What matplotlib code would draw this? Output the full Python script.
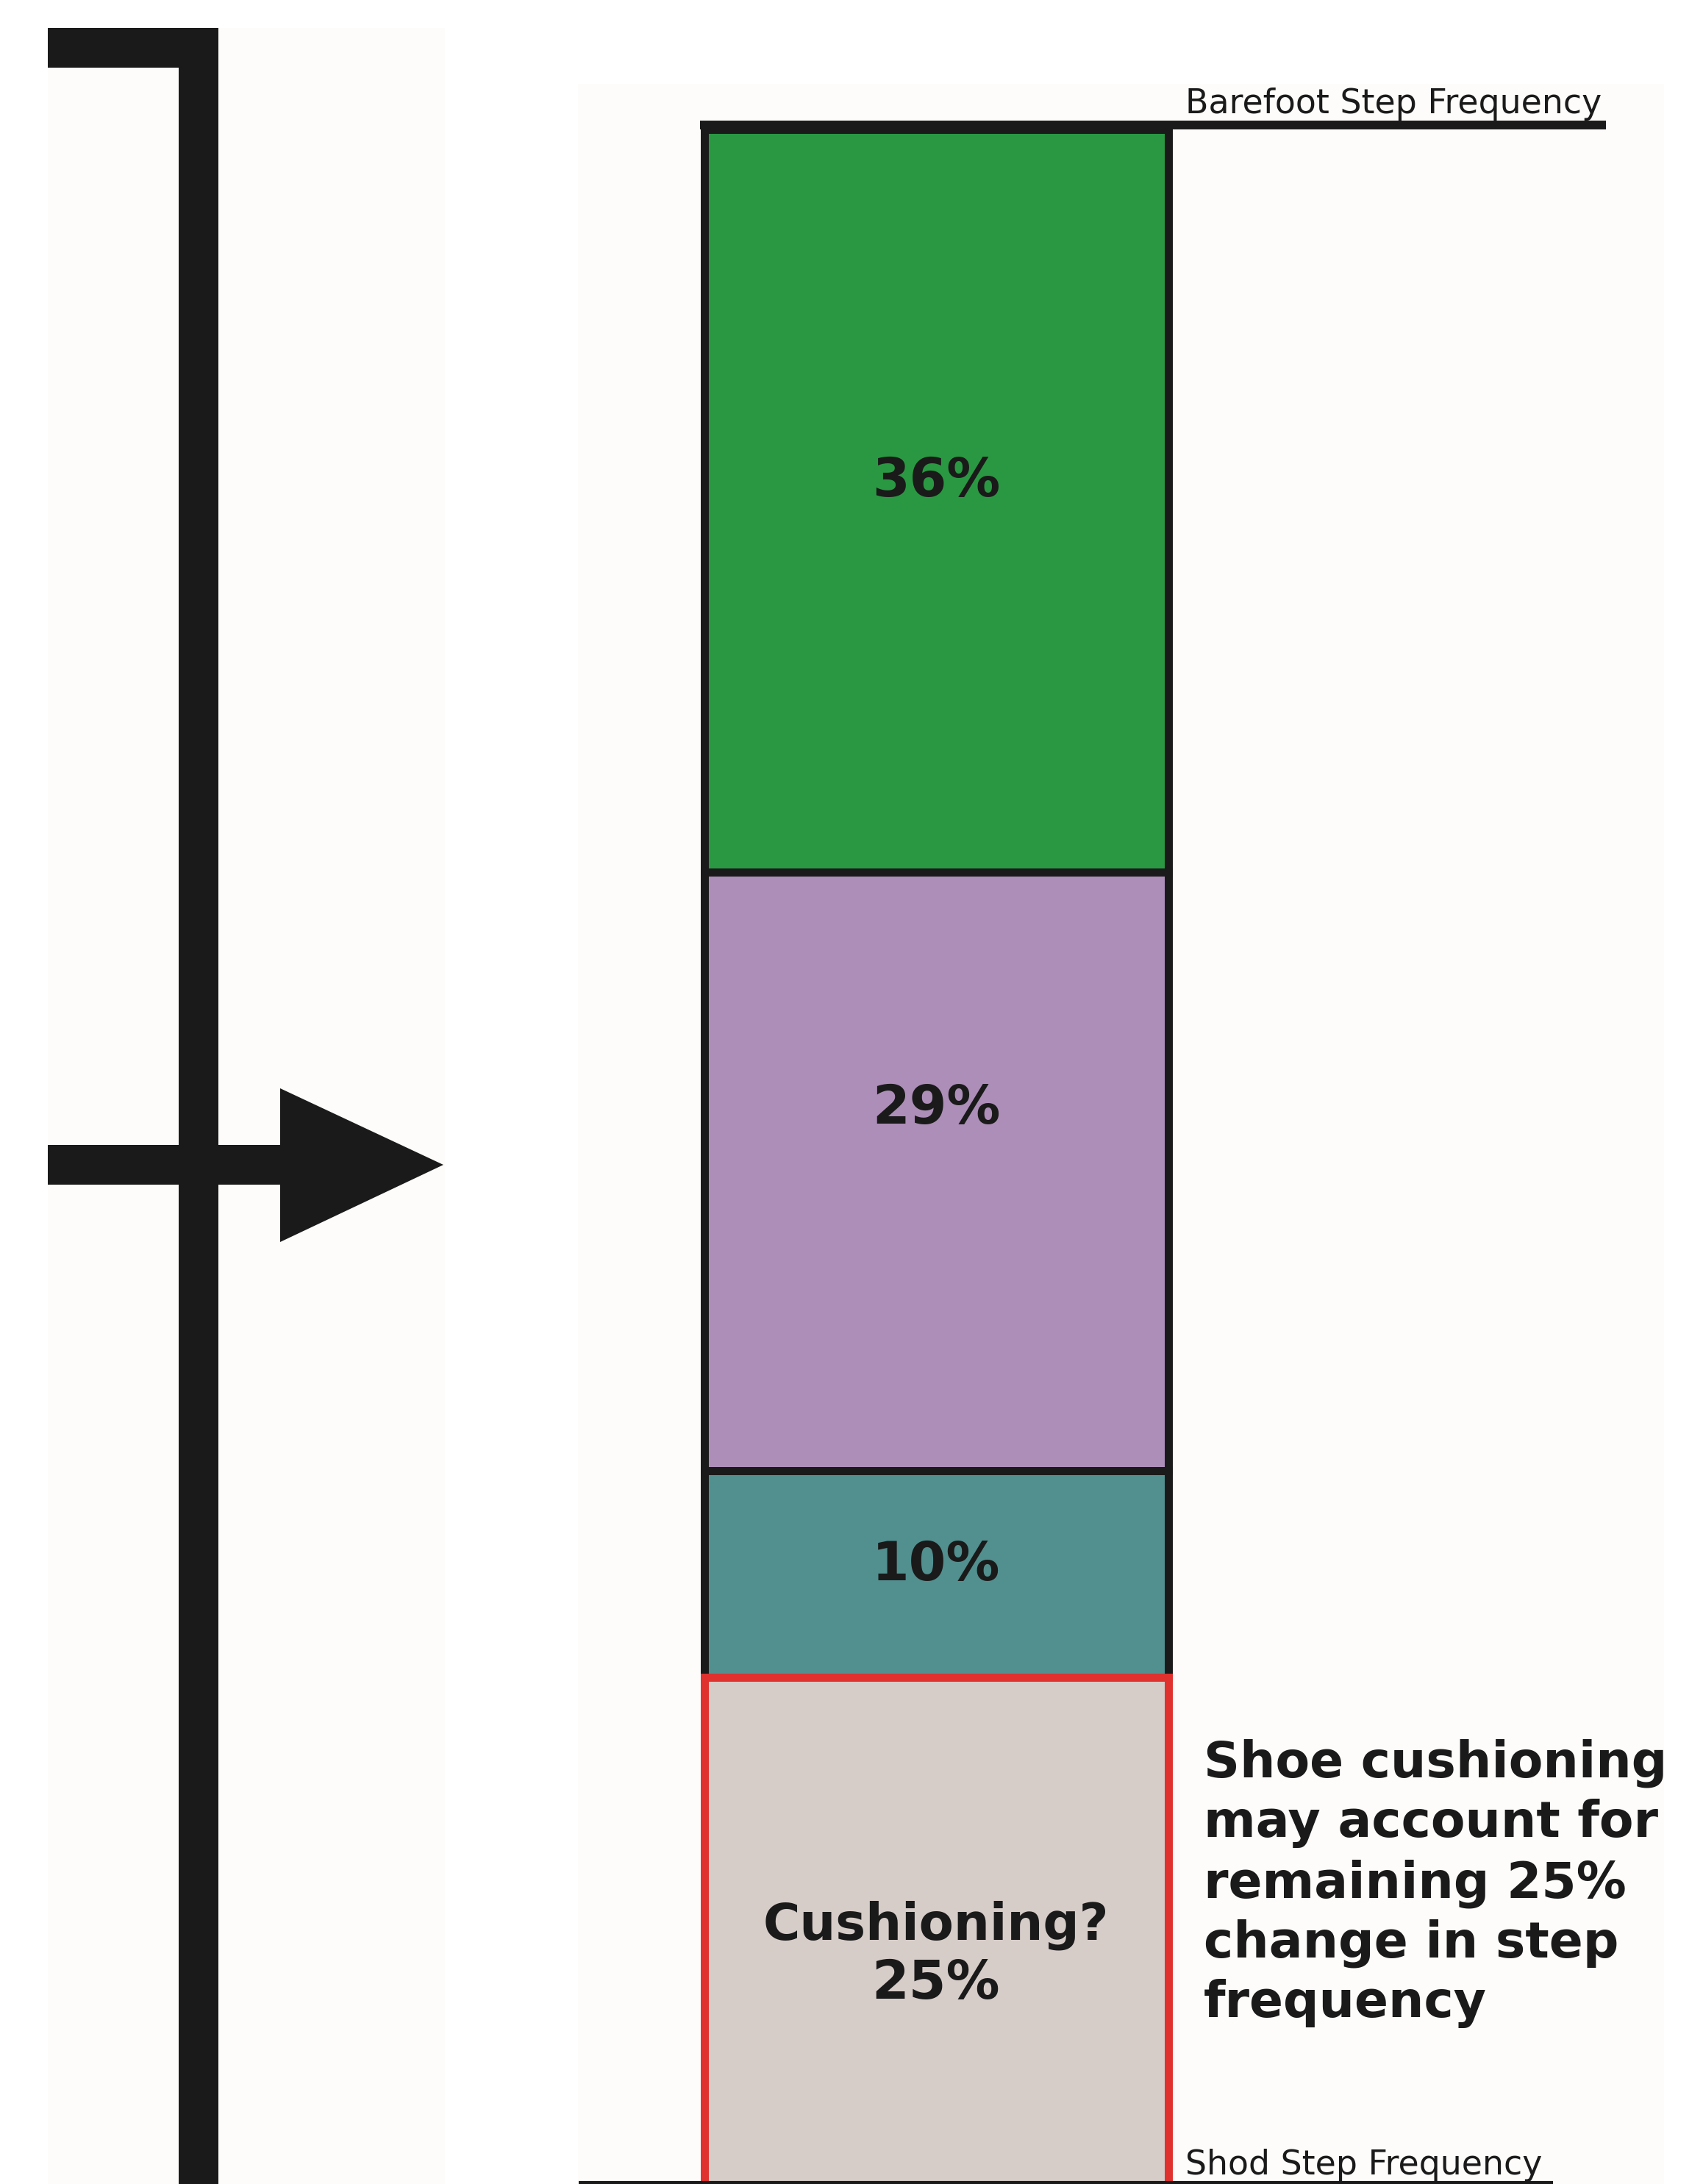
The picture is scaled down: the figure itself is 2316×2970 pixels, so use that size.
import matplotlib
matplotlib.use("Agg")
import matplotlib.pyplot as plt
from matplotlib.patches import Rectangle, Polygon

# share of the barefoot -> shod step frequency change, from the top down
segments = ["Factor A", "Factor B", "Factor C", "Cushioning"]
shares = [36, 29, 10, 25]
labels = ["36%", "29%", "10%", "Cushioning?\n25%"]
colors = ["#2a9842", "#ad8eb8", "#528f8f", "#d6ccc8"]
edges = ["#1a1a1a", "#1a1a1a", "#1a1a1a", "#e0312e"]
top_label = "Barefoot Step Frequency"
bottom_label = "Shod Step Frequency"
note = "Shoe cushioning\nmay account for\nremaining 25%\nchange in step\nfrequency"

W, H = 2316, 2970
fig = plt.figure(figsize=(W / 100, H / 100), dpi=100)
fig.patch.set_facecolor("white")

# decoration layer in pixel coords (bracket + arrow)
deco = fig.add_axes([0, 0, 1, 1])
deco.set_xlim(0, W)
deco.set_ylim(H, 0)
deco.axis("off")
black = "#1a1a1a"
deco.add_patch(Rectangle((65, 38), 540, H, color="#fdfcfa", lw=0))
deco.add_patch(Rectangle((786, 114), 1477, H, color="#fdfcfa", lw=0))
deco.add_patch(Rectangle((65, 38), 232, 54, color=black, lw=0))
deco.add_patch(Rectangle((243, 38), 54, H, color=black, lw=0))
deco.add_patch(Rectangle((65, 1557), 320, 54, color=black, lw=0))
deco.add_patch(Polygon([(381, 1480), (381, 1689), (603, 1584)], closed=True, color=black, lw=0))

# bar layer: x in pixels, y in percent (0 = shod, 100 = barefoot)
ax = fig.add_axes([0, 0, 1, 1], facecolor="none")
px_per_pct = 28.06
y0 = 2982
ax.set_xlim(0, W)
ax.set_ylim((y0 - H) / px_per_pct, y0 / px_per_pct)
ax.axis("off")

bottoms = []
b = 100
for s in shares:
    b -= s
    bottoms.append(b)

bar_x = 1273
bar_w = 631
for i in range(len(shares)):
    ax.bar(bar_x, shares[i], bottom=bottoms[i], width=bar_w, color=colors[i],
           edgecolor=edges[i], linewidth=7.9, zorder=2 + i)

# baseline of the last line of each label; lines drawn one by one
label_y = [82.2, 51.8, 29.7, 9.4]
line_step = 81 / px_per_pct
for i in range(len(labels)):
    lines = labels[i].split("\n")
    for j, line in enumerate(reversed(lines)):
        size = 52.5 if line.endswith("%") else 49.5
        ax.text(bar_x, label_y[i] + j * line_step, line, ha="center", va="baseline",
                fontsize=size, fontweight="bold", color=black, zorder=10)

ax.hlines(100.2, 952, 2184, color=black, lw=8.6, zorder=8)
ax.text(1612, 100.8, top_label, ha="left", va="baseline", fontsize=33, color=black)
ax.hlines(0.5, 787, 2112, color=black, lw=3, zorder=8)
ax.text(1612, 0.9, bottom_label, ha="left", va="baseline", fontsize=33, color=black)

ax.text(1637, 8.5, note, ha="left", va="baseline", fontsize=49, fontweight="bold",
        color=black, linespacing=1.29)

fig.savefig("out.png", dpi=100, facecolor=fig.get_facecolor())
